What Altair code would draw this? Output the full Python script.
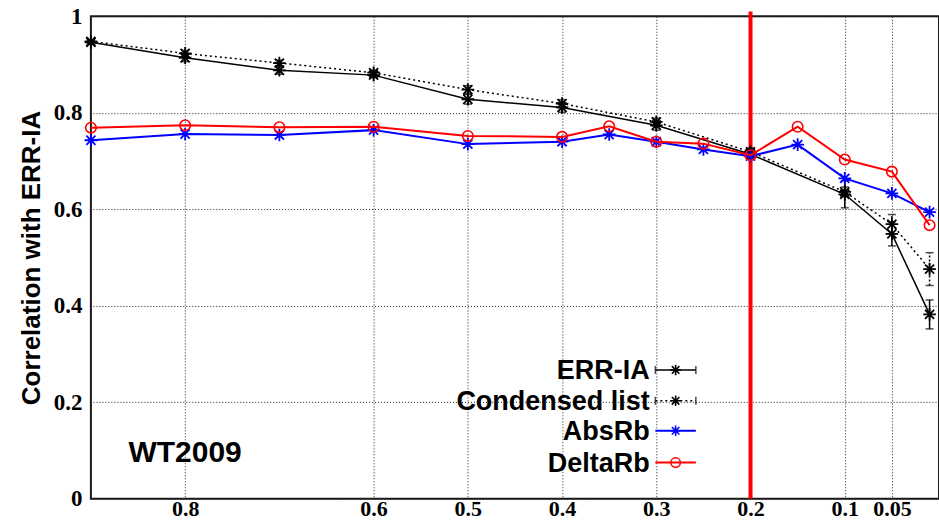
import altair as alt
import pandas as pd

# ---------------- data ----------------
x_err = [0.9, 0.8, 0.7, 0.6, 0.5, 0.4, 0.3, 0.2, 0.1, 0.05, 0.01]
err_ia = [0.946, 0.914, 0.888, 0.878, 0.828, 0.811, 0.774, 0.714, 0.631, 0.549, 0.382]
err_ia_sd = [0.004, 0.008, 0.008, 0.005, 0.010, 0.010, 0.010, 0.010, 0.028, 0.025, 0.030]
condensed = [0.948, 0.923, 0.903, 0.883, 0.848, 0.819, 0.781, 0.719, 0.636, 0.569, 0.476]
condensed_sd = [0.003, 0.006, 0.006, 0.004, 0.008, 0.008, 0.008, 0.008, 0.010, 0.020, 0.034]

x_rb = [0.9, 0.8, 0.7, 0.6, 0.5, 0.4, 0.35, 0.3, 0.25, 0.2, 0.15, 0.1, 0.05, 0.01]
absrb = [0.743, 0.756, 0.754, 0.764, 0.735, 0.740, 0.755, 0.740, 0.724, 0.710, 0.734, 0.664, 0.633, 0.594]
deltarb = [0.769, 0.774, 0.770, 0.771, 0.752, 0.750, 0.772, 0.740, 0.736, 0.712, 0.771, 0.703, 0.678, 0.567]

x_ticks = [0.8, 0.6, 0.5, 0.4, 0.3, 0.2, 0.1, 0.05]
y_ticks = [0, 0.2, 0.4, 0.6, 0.8, 1.0]
threshold = [0.2]
panel_label = "WT2009"
series_names = ["ERR-IA", "Condensed list", "AbsRb", "DeltaRb"]
y_title = "Correlation with ERR-IA"

# ---------------- layout / style constants ----------------
X_DOMAIN = [0, 0.9]
Y_DOMAIN = [0, 1]
LEG_Y = [0.267, 0.203, 0.141, 0.075]
LEG_X_TEXT = 0.307
LEG_X0 = 0.301
LEG_X1 = 0.258
LEG_XM = 0.2795
LABEL_POS = (0.8, 0.077)
ASTERISK = "M-1,0H1M0,-1V1M-0.72,-0.72L0.72,0.72M-0.72,0.72L0.72,-0.72"
SANS = "Liberation Sans"
SERIF = "Liberation Serif"

xscale = alt.Scale(domain=X_DOMAIN, reverse=True, nice=False, zero=False)
yscale = alt.Scale(domain=Y_DOMAIN, nice=False, zero=False)
xaxis = alt.Axis(values=x_ticks, format=".2~f", title=None, labelPadding=0, labelFontSize=22)
yaxis = alt.Axis(values=y_ticks, format=".1~f", title=y_title, labelPadding=9, titlePadding=9,
                 labelFontSize=23)


def X(field):
    return alt.X(field, type="quantitative", scale=xscale, axis=xaxis)


def Y(field):
    return alt.Y(field, type="quantitative", scale=yscale, axis=yaxis)


df_err = pd.DataFrame({"x": x_err, "y": err_ia, "sd": err_ia_sd})
df_con = pd.DataFrame({"x": x_err, "y": condensed, "sd": condensed_sd})
df_abs = pd.DataFrame({"x": x_rb, "y": absrb})
df_del = pd.DataFrame({"x": x_rb, "y": deltarb})
for d in (df_err, df_con):
    d["lo"] = d["y"] - d["sd"]
    d["hi"] = d["y"] + d["sd"]

layers = []

# threshold line
layers.append(
    alt.Chart(pd.DataFrame({"x": threshold})).mark_rule(color="#ff0000", strokeWidth=4).encode(
        x=X("x"), y=alt.Y(datum=1.01, scale=yscale, axis=yaxis), y2=alt.Y2(datum=0)
    )
)

styles = [
    (df_err, "black", 1.5, None, "star", True),
    (df_con, "black", 1.5, [2, 3], "star", True),
    (df_abs, "#0000ff", 2, None, "star", False),
    (df_del, "#ff0000", 2, None, "circle", False),
]

for d, color, sw, dash, marker, has_err in styles:
    base = alt.Chart(d)
    line_kw = dict(color=color, strokeWidth=sw)
    if dash:
        line_kw["strokeDash"] = dash
    layers.append(base.mark_line(**line_kw).encode(x=X("x"), y=Y("y")))
    if has_err:
        rule_kw = dict(color=color, strokeWidth=1.5)
        if dash:
            rule_kw["strokeDash"] = [2, 2]
        layers.append(base.mark_rule(**rule_kw).encode(x=X("x"), y=Y("lo"), y2="hi"))
        for f in ("lo", "hi"):
            layers.append(base.mark_tick(orient="horizontal", size=8, thickness=1.5, color=color)
                          .encode(x=X("x"), y=Y(f)))
    if marker == "star":
        layers.append(base.mark_point(shape=ASTERISK, size=160, filled=False, color=color,
                                      strokeWidth=1.8, opacity=1).encode(x=X("x"), y=Y("y")))
    else:
        layers.append(base.mark_point(shape="circle", size=110, filled=False, color=color,
                                      strokeWidth=1.6, opacity=1).encode(x=X("x"), y=Y("y")))

# panel label
layers.append(
    alt.Chart(pd.DataFrame({"t": [panel_label]})).mark_text(
        font=SANS, fontWeight="bold", fontSize=30, align="center", baseline="alphabetic", color="black"
    ).encode(x=alt.X(datum=LABEL_POS[0], scale=xscale, axis=xaxis),
             y=alt.Y(datum=LABEL_POS[1], scale=yscale, axis=yaxis), text="t:N")
)

# legend (inside plot, labels right-aligned, samples to the right)
leg = pd.DataFrame({"name": series_names, "ly": LEG_Y})
layers.append(
    alt.Chart(leg).mark_text(font=SANS, fontWeight="bold", fontSize=27, align="right",
                             baseline="middle", color="black", dy=1)
    .encode(x=alt.X(datum=LEG_X_TEXT, scale=xscale, axis=xaxis), y=Y("ly"), text="name:N")
)
for i, (d, color, sw, dash, marker, has_err) in enumerate(styles):
    row = leg.iloc[[i]]
    rb = alt.Chart(row)
    rkw = dict(color=color, strokeWidth=sw)
    if dash:
        rkw["strokeDash"] = dash
    layers.append(rb.mark_rule(**rkw).encode(
        x=alt.X(datum=LEG_X0, scale=xscale, axis=xaxis), x2=alt.X2(datum=LEG_X1), y=Y("ly")))
    if has_err:
        for xv in (LEG_X0, LEG_X1):
            tkw = dict(orient="vertical", size=8, thickness=1.5, color=color)
            layers.append(rb.mark_tick(**tkw).encode(
                x=alt.X(datum=xv, scale=xscale, axis=xaxis), y=Y("ly")))
    if marker == "star":
        layers.append(rb.mark_point(shape=ASTERISK, size=110, filled=False, color=color,
                                    strokeWidth=1.6, opacity=1).encode(
            x=alt.X(datum=LEG_XM, scale=xscale, axis=xaxis), y=Y("ly")))
    else:
        layers.append(rb.mark_point(shape="circle", size=90, filled=False, color=color,
                                    strokeWidth=1.5, opacity=1).encode(
            x=alt.X(datum=LEG_XM, scale=xscale, axis=xaxis), y=Y("ly")))

chart = alt.layer(*layers).properties(
    width=849, height=483,
    autosize=alt.AutoSizeParams(type="none"),
    padding={"left": 91, "top": 16, "right": 0, "bottom": 23},
    background="white",
).configure_view(stroke="#1a1a1a", strokeWidth=2).configure_axis(
    grid=True, ticks=False, domain=False,
    labelFont=SERIF, labelFontWeight="bold", labelColor="black",
    gridColor="#222", gridDash=[1, 2], gridWidth=1, gridOpacity=1,
    titleFont=SANS, titleFontWeight="bold", titleFontSize=26, titleColor="black",
    labelOverlap=False, labelBound=False, labelFlush=False,
)

chart.save("out.html", embed_options={"renderer": "svg", "actions": False})
